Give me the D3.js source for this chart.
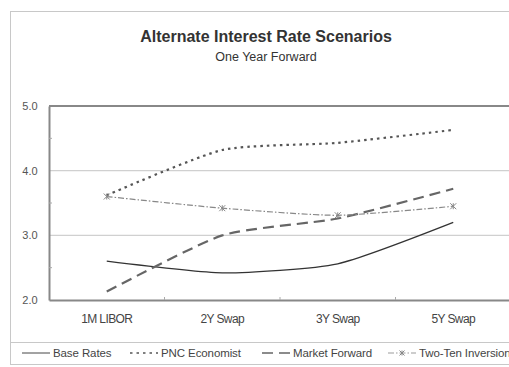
<!DOCTYPE html>
<html>
<head>
<meta charset="utf-8">
<script src="https://cdn.jsdelivr.net/npm/d3@7"></script>
<style>
  body { margin: 0; background: #fff; }
  svg { display: block; font-family: "Liberation Sans", Arial, sans-serif; }
</style>
</head>
<body>
<svg id="chart" width="509" height="367"></svg>
<script>
// data
var categories = ["1M LIBOR", "2Y Swap", "3Y Swap", "5Y Swap"];
var baseRates = [2.60, 2.42, 2.56, 3.20];
var pncEconomist = [3.62, 4.32, 4.43, 4.63];
var marketForward = [2.13, 3.00, 3.26, 3.72];
var twoTenInversion = [3.60, 3.42, 3.31, 3.45];
var seriesNames = ["Base Rates", "PNC Economist", "Market Forward", "Two-Ten Inversion"];
var yTicks = [2.0, 3.0, 4.0, 5.0];
var yMinor = [2.5, 3.5, 4.5];

var series = [
  { name: seriesNames[0], values: baseRates, dash: null, color: "#333", width: 1.3 },
  { name: seriesNames[1], values: pncEconomist, dash: "2.5,4", color: "#555", width: 2.2 },
  { name: seriesNames[2], values: marketForward, dash: "11,6", color: "#666", width: 2.2 },
  { name: seriesNames[3], values: twoTenInversion, dash: "6,2,1.5,2", color: "#888", width: 1.2, star: true }
];

var svg = d3.select("#chart");
var plot = { left: 49, right: 511, top: 106, bottom: 300 };

// outer frame
svg.append("rect")
  .attr("x", 10.5).attr("y", 11.5)
  .attr("width", 520).attr("height", 353)
  .attr("fill", "none").attr("stroke", "#c8c8c8");

svg.append("text")
  .attr("x", 266).attr("y", 42)
  .attr("text-anchor", "middle")
  .attr("font-size", 16).attr("font-weight", "bold")
  .attr("fill", "#333")
  .text("Alternate Interest Rate Scenarios");

svg.append("text")
  .attr("x", 266).attr("y", 61)
  .attr("text-anchor", "middle")
  .attr("font-size", 12.5)
  .attr("fill", "#333")
  .text("One Year Forward");

var x = d3.scaleBand()
  .domain(categories)
  .range([plot.left, plot.right]);

var y = d3.scaleLinear()
  .domain([2, 5])
  .range([plot.bottom, plot.top]);

// gridlines
svg.append("g")
  .selectAll("line")
  .data(yTicks.filter(function(d){ return d > 2 && d < 5; }))
  .enter().append("line")
  .attr("x1", plot.left).attr("x2", plot.right)
  .attr("y1", function(d){ return y(d); })
  .attr("y2", function(d){ return y(d); })
  .attr("stroke", "#d0d0d0").attr("stroke-width", 1.2);

// frame top
svg.append("line")
  .attr("x1", plot.left).attr("x2", plot.right)
  .attr("y1", plot.top).attr("y2", plot.top)
  .attr("stroke", "#888").attr("stroke-width", 2);

// y axis
var yAxis = d3.axisLeft(y).tickValues(yTicks).tickFormat(d3.format(".1f")).tickSize(0).tickPadding(10);
var gy = svg.append("g")
  .attr("transform", "translate(" + plot.left + ",0)")
  .call(yAxis);
gy.select(".domain").attr("stroke", "#888").attr("stroke-width", 2);
gy.selectAll("text").attr("font-size", 11).attr("fill", "#555").attr("x", -19).attr("text-anchor", "middle");

svg.append("g")
  .selectAll("line")
  .data(yMinor)
  .enter().append("line")
  .attr("x1", plot.left).attr("x2", plot.left + 3)
  .attr("y1", function(d){ return y(d); })
  .attr("y2", function(d){ return y(d); })
  .attr("stroke", "#aaa");

// x axis
var xAxis = d3.axisBottom(x).tickSize(0).tickPadding(14);
var gx = svg.append("g")
  .attr("transform", "translate(0," + plot.bottom + ")")
  .call(xAxis);
gx.select(".domain").attr("stroke", "#888").attr("stroke-width", 2);
gx.selectAll("text").attr("font-size", 12).attr("fill", "#444").attr("letter-spacing", -0.6);

svg.append("g")
  .selectAll("line")
  .data(categories.slice(1))
  .enter().append("line")
  .attr("x1", function(d){ return x(d); })
  .attr("x2", function(d){ return x(d); })
  .attr("y1", plot.bottom).attr("y2", plot.bottom - 3)
  .attr("stroke", "#aaa");

// lines
var line = d3.line()
  .x(function(d, i){ return x(categories[i]) + x.bandwidth() / 2; })
  .y(function(d){ return y(d); })
  .curve(d3.curveCardinal.tension(0.4));

function star(g, cx, cy, r, color) {
  g.append("path")
    .attr("d", "M" + (cx - r) + "," + (cy - r) + "L" + (cx + r) + "," + (cy + r) +
               "M" + (cx - r) + "," + (cy + r) + "L" + (cx + r) + "," + (cy - r) +
               "M" + cx + "," + (cy - r) + "L" + cx + "," + (cy + r))
    .attr("stroke", color).attr("stroke-width", 1).attr("fill", "none");
}

var gl = svg.append("g");
series.forEach(function(s) {
  gl.append("path")
    .attr("d", line(s.values))
    .attr("fill", "none")
    .attr("stroke", s.color)
    .attr("stroke-width", s.width)
    .attr("stroke-dasharray", s.dash);
  if (s.star) {
    s.values.forEach(function(v, i) {
      star(gl, x(categories[i]) + x.bandwidth() / 2, y(v), 3, s.color);
    });
  }
});

// legend
svg.append("line")
  .attr("x1", 10).attr("x2", 509).attr("y1", 342.5).attr("y2", 342.5)
  .attr("stroke", "#c8c8c8");

var legendX = [22, 130, 262, 388];
var leg = svg.append("g");
series.forEach(function(s, i) {
  var lx = legendX[i];
  leg.append("line")
    .attr("x1", lx).attr("x2", lx + 28)
    .attr("y1", 353).attr("y2", 353)
    .attr("stroke", s.color)
    .attr("stroke-width", s.width * 0.7)
    .attr("stroke-dasharray", s.dash);
  if (s.star) star(leg, lx + 14, 353, 2.5, s.color);
  leg.append("text")
    .attr("x", lx + 31).attr("y", 357)
    .attr("font-size", 11.5)
    .attr("fill", "#444")
    .attr("letter-spacing", -0.1)
    .text(s.name);
});
</script>
</body>
</html>
